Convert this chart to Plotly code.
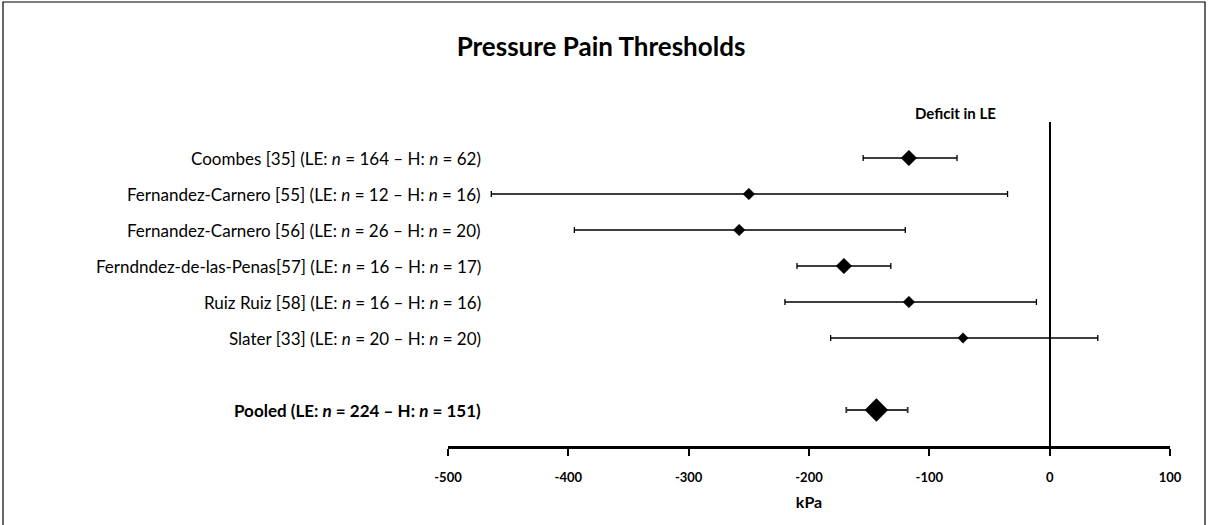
import plotly.graph_objects as go

studies = [
    "Coombes [35] (LE: <i>n</i> = 164 – H: <i>n</i> = 62)",
    "Fernandez-Carnero [55] (LE: <i>n</i> = 12 – H: <i>n</i> = 16)",
    "Fernandez-Carnero [56] (LE: <i>n</i> = 26 – H: <i>n</i> = 20)",
    "Ferndndez-de-las-Penas[57] (LE: <i>n</i> = 16 – H: <i>n</i> = 17)",
    "Ruiz Ruiz [58] (LE: <i>n</i> = 16 – H: <i>n</i> = 16)",
    "Slater [33] (LE: <i>n</i> = 20 – H: <i>n</i> = 20)",
]
effect = [-117, -250, -258, -171, -117, -72]
ci_low = [-155, -464, -395, -210, -220, -182]
ci_high = [-77, -35, -120, -132, -11, 40]

pooled_label = "<b>Pooled (LE: <i>n</i> = 224 – H: <i>n</i> = 151)</b>"
pooled_effect = -144
pooled_low = -169
pooled_high = -118

tick_vals = [-500, -400, -300, -200, -100, 0, 100]

study_pos = [0, 1, 2, 3, 4, 5]
pooled_pos = 7
marker_sizes = [12, 9, 9, 12, 9, 8]

FONT = "Lato, Carlito, Calibri, sans-serif"

fig = go.Figure()
fig.add_trace(go.Scatter(
    x=effect, y=study_pos, mode="markers",
    marker=dict(symbol="diamond", color="black", size=marker_sizes, opacity=1,
                line=dict(width=0.5, color="black")),
    error_x=dict(type="data", symmetric=False,
                 array=[h - e for h, e in zip(ci_high, effect)],
                 arrayminus=[e - l for e, l in zip(effect, ci_low)],
                 color="black", thickness=1.3, width=3),
    showlegend=False, hoverinfo="x",
))
fig.add_trace(go.Scatter(
    x=[pooled_effect], y=[pooled_pos], mode="markers",
    marker=dict(symbol="diamond", color="black", size=18, opacity=1, line=dict(width=0)),
    error_x=dict(type="data", symmetric=False,
                 array=[pooled_high - pooled_effect],
                 arrayminus=[pooled_effect - pooled_low],
                 color="#333333", thickness=1.8, width=3),
    showlegend=False, hoverinfo="x",
))

L, R, T, B = 448, 38, 122, 79
W, H = 1208, 525
pw, ph = W - L - R, H - T - B

def px(xp):
    return (xp - L) / pw

def py(yp):
    return (H - B - yp) / ph

annotations = []
for lab, p in zip(studies, study_pos):
    annotations.append(dict(x=-471, y=p, xref="x", yref="y", text=lab, showarrow=False,
                            xanchor="right", yanchor="middle",
                            font=dict(family=FONT, size=17, color="black")))
annotations.append(dict(x=-471, y=pooled_pos, xref="x", yref="y", text=pooled_label, showarrow=False,
                        xanchor="right", yanchor="middle",
                        font=dict(family=FONT, size=17, color="black")))
annotations.append(dict(x=px(955), y=py(113), xref="paper", yref="paper",
                        text="<b>Deficit in LE</b>", showarrow=False,
                        xanchor="center", yanchor="middle",
                        font=dict(family=FONT, size=15, color="black")))

shapes = [dict(type="rect", xref="paper", yref="paper",
               x0=px(3), x1=px(1205), y0=py(540), y1=py(2),
               line=dict(color="black", width=1.2), fillcolor="rgba(0,0,0,0)", layer="below")]

fig.update_layout(
    width=W, height=H,
    margin=dict(l=L, r=R, t=T, b=B),
    paper_bgcolor="white", plot_bgcolor="white",
    title=dict(text="<b>Pressure Pain Thresholds</b>", xref="container", x=601 / W, xanchor="center",
               yref="container", y=1 - 47 / H, yanchor="middle",
               font=dict(family=FONT, size=26, color="black")),
    xaxis=dict(range=[-500, 100], tickvals=tick_vals, ticktext=[str(v) for v in tick_vals],
               showgrid=False, zeroline=True, zerolinecolor="black", zerolinewidth=2,
               showline=True, linecolor="black", linewidth=3,
               ticks="outside", ticklen=7, tickwidth=2, tickcolor="black",
               ticklabelstandoff=10,
               tickfont=dict(family=FONT, size=13, color="black", weight="bold"),
               title=dict(text="<b>kPa</b>", font=dict(family=FONT, size=16, color="black"), standoff=14),
               fixedrange=True),
    yaxis=dict(range=[8, -1], showgrid=False, zeroline=False, showline=False,
               showticklabels=False, ticks="", fixedrange=True),
    annotations=annotations,
    shapes=shapes,
    font=dict(family=FONT, color="black"),
)

fig.write_html("out.html", config={"displayModeBar": False},
               post_script="document.body.style.margin='0';")
